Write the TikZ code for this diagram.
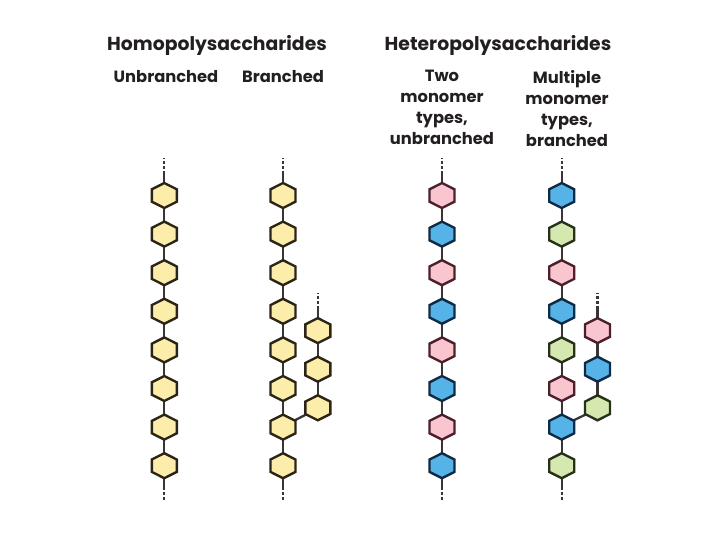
\documentclass[tikz,border=0pt]{standalone}
\usepackage{fontspec}
\setmainfont{Poppins}
\usetikzlibrary{calc}
\definecolor{txt}{HTML}{231F20}
\definecolor{yelF}{HTML}{FCEEAA}
\definecolor{yelD}{HTML}{2B2417}
\definecolor{pnkF}{HTML}{F9C6CF}
\definecolor{pnkD}{HTML}{4B1F2B}
\definecolor{bluF}{HTML}{55B3E8}
\definecolor{bluD}{HTML}{102A44}
\definecolor{grnF}{HTML}{D5E8B0}
\definecolor{grnD}{HTML}{273018}
\tikzset{
  hexnode/.style={circle, minimum size=25pt, inner sep=0pt, draw=none},
  hexline/.style={line width=2.4pt, line join=miter},
  link/.style={line width=2.3pt, draw=txt!90},
  endline/.style={line width=2.3pt, draw=txt!90, dash pattern=on 12pt off 2pt on 3pt off 2pt on 3pt off 2pt on 3pt off 2pt on 3pt},
  title/.style={font=\bfseries\fontsize{18.8}{20}\selectfont, text=txt, anchor=base, inner sep=0pt},
  sub/.style={font=\bfseries\fontsize{16.3}{21}\selectfont, text=txt, anchor=base, align=center, inner sep=0pt},
}
\newcommand{\hexdraw}[3]{%
  \filldraw[hexline, fill=#2, draw=#3]
    ([shift={(0,-12.5)}]#1.center) -- ([shift={(12.5,-6.2)}]#1.center) --
    ([shift={(12.5,6.2)}]#1.center) -- ([shift={(0,12.5)}]#1.center) --
    ([shift={(-12.5,6.2)}]#1.center) -- ([shift={(-12.5,-6.2)}]#1.center) -- cycle;}
\begin{document}
\begin{tikzpicture}[x=1pt,y=-1pt]
\useasboundingbox (0,0) rectangle (720,540);
% titles
\node[title] (h1) at (217,51) {Homopolysaccharides};
\node[title] (h2) at (498,51) {Heteropolysaccharides};
\node[sub] (s1) at (166,83) {Unbranched};
\node[sub] (s2) at (283,83) {Branched};
\node[sub, anchor=north] (s3) at (442,70) {Two\\monomer\\types,\\unbranched};
\node[sub, anchor=north] (s4) at (567,70) {Multiple\\monomer\\types,\\branched};
% hex centres
\foreach \i [evaluate=\i as \y using 195.5+38.6*(\i-1)] in {1,...,8} {
  \node[hexnode] (a\i) at (164.3,\y) {};
  \node[hexnode] (b\i) at (283,\y) {};
  \node[hexnode] (c\i) at (442,\y) {};
  \node[hexnode] (d\i) at (561.7,\y) {};
}
\foreach \i [evaluate=\i as \y using 330.6+38.6*(\i-1)] in {1,2,3} {
  \node[hexnode] (e\i) at (317.8,\y) {};
  \node[hexnode] (f\i) at (597.5,\y) {};
}
% free ends
\coordinate (at) at (164.3,158); \coordinate (ab) at (164.3,502);
\coordinate (bt) at (283,158);   \coordinate (bb) at (283,502);
\coordinate (ct) at (442,158);   \coordinate (cb) at (442,502);
\coordinate (dt) at (561.7,158); \coordinate (db) at (561.7,502);
\coordinate (et) at (317.8,293);
\coordinate (ft) at (597.5,293);
% connectors
\foreach \c in {a,b,c,d} {
  \draw[endline] (\c1.north) -- (\c t);
  \draw[endline] (\c8.south) -- (\c b);
  \foreach \i [evaluate=\i as \j using int(\i+1)] in {1,...,7} {
    \draw[link] (\c\i.south) -- (\c\j.north);
  }
}
\foreach \c in {e,f} {
  \draw[endline] (\c1.north) -- (\c t);
  \draw[link] (\c1.south) -- (\c2.north);
  \draw[link] (\c2.south) -- (\c3.north);
}
\draw[link] (b7.30) -- (e3.210);
\draw[link] (d7.30) -- (f3.210);
% hexagons
\foreach \i in {1,...,8} {
  \hexdraw{a\i}{yelF}{yelD}
  \hexdraw{b\i}{yelF}{yelD}
}
\foreach \i in {1,...,3} {\hexdraw{e\i}{yelF}{yelD}}
\foreach \i in {1,3,5,7} {\hexdraw{c\i}{pnkF}{pnkD}}
\foreach \i in {2,4,6,8} {\hexdraw{c\i}{bluF}{bluD}}
\foreach \i in {1,4,7} {\hexdraw{d\i}{bluF}{bluD}}
\foreach \i in {2,5,8} {\hexdraw{d\i}{grnF}{grnD}}
\foreach \i in {3,6} {\hexdraw{d\i}{pnkF}{pnkD}}
\hexdraw{f1}{pnkF}{pnkD}
\hexdraw{f2}{bluF}{bluD}
\hexdraw{f3}{grnF}{grnD}
\end{tikzpicture}
\end{document}
